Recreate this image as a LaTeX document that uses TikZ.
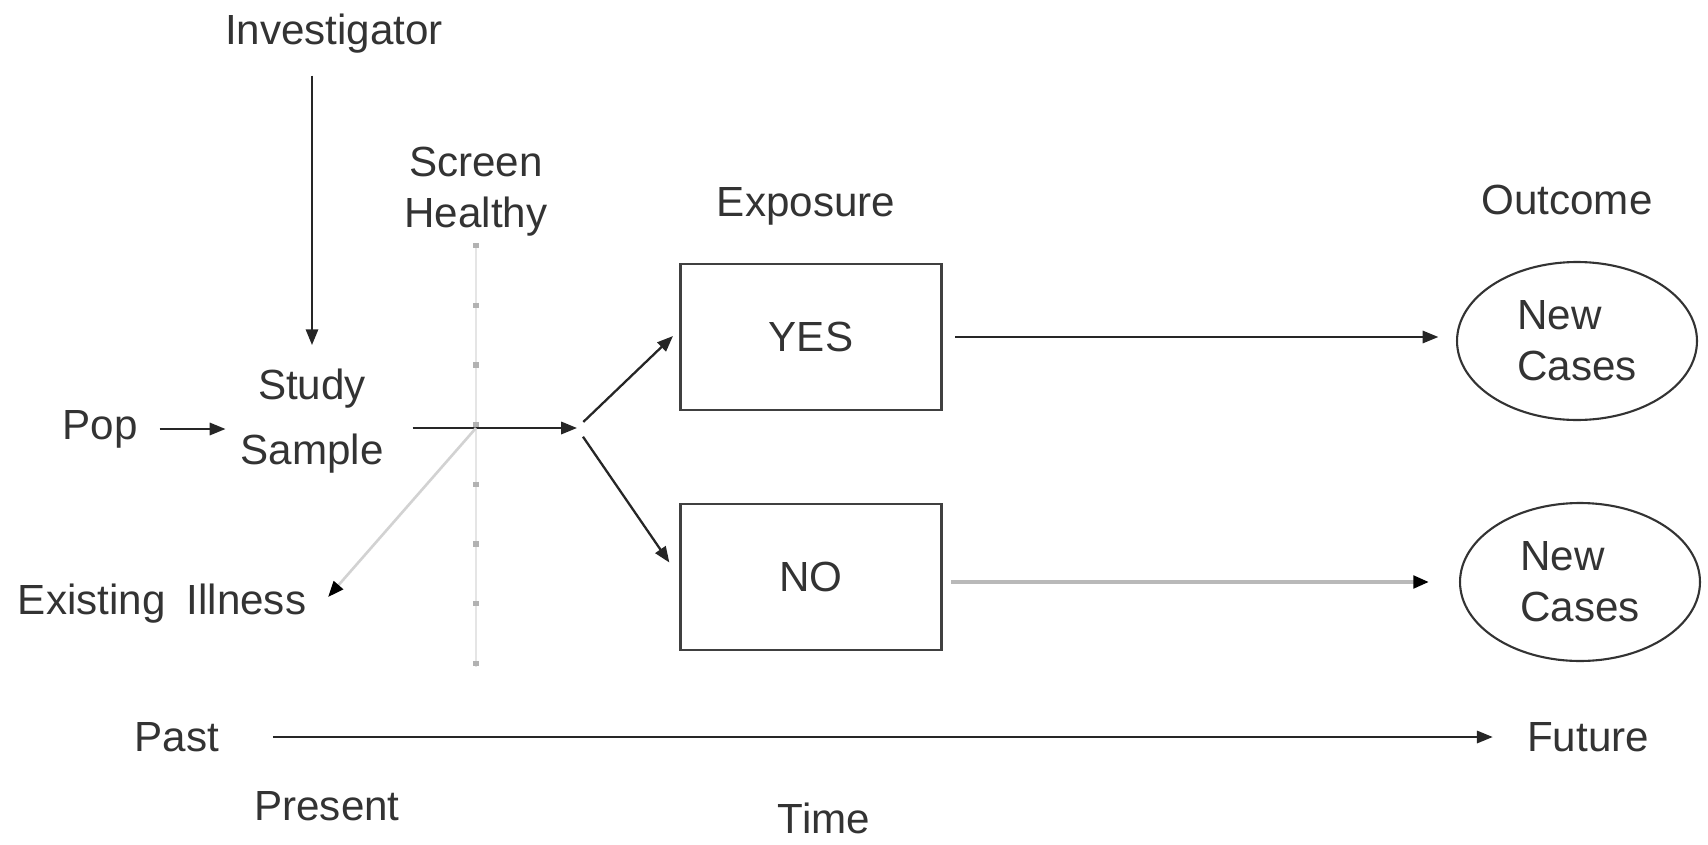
\documentclass[tikz,border=0pt]{standalone}
\usepackage{fontspec}
\setmainfont{Liberation Sans}
\usetikzlibrary{arrows.meta,positioning,shapes}

\begin{document}
\begin{tikzpicture}[
		x = 0.02cm, y = -0.02cm,
		font = \fontsize{24}{29}\selectfont,
		every node/.style = {text = black!80},
		arr/.style = {draw = black!85, line width = 1.3pt, -{Triangle[length = 9pt, width = 7pt]}},
		expbox/.style = {rectangle, draw = black!75, line width = 1.4pt, minimum width = 5.22cm, minimum height = 2.92cm},
		casenode/.style = {ellipse, draw = black!80, line width = 1.2pt, minimum width = 4.8cm, minimum height = 3.16cm, align = left},
		scrline/.style = {draw = gray!20, line width = 1.5pt, postaction = {draw = gray!60, line width = 3pt, dash pattern = on 3pt off 31pt}},
		illarr/.style = {draw = gray!35, line width = 1.5pt, -{Triangle[length = 9pt, width = 7pt, color = black]}},
		noarr/.style = {draw = gray!55, line width = 2.4pt, -{Triangle[length = 9pt, width = 7pt, color = black]}}
		]
\useasboundingbox (0,0) rectangle (1708,845);

\node (inv) at (334, 34) {Investigator};
\node[align = center] (screen) at (476, 192) {Screen\\Healthy};
\node (expo) at (806, 206) {Exposure};
\node (outc) at (1567, 200) {Outcome};

\node[expbox] (yes) at (811, 337) {YES};
\node[expbox] (no) at (811, 577) {NO};
\node[casenode] (case1) at (1577, 341) {New\\Cases};
\node[casenode] (case2) at (1580, 582) {New\\Cases};

\node (pop) at (100, 429) {Pop};
\node[align = center] (study) at (312, 421) {Study\\[8pt]Sample};
\node (ill) at (162, 604) {Existing\enspace Illness};

\node (past) at (177, 737) {Past};
\node (future) at (1588, 737) {Future};
\node (present) at (327, 806) {Present};
\node (time) at (824, 818) {Time};

\coordinate (fork) at (577, 428);
\coordinate (cross) at (screen.south |- fork);
\coordinate (scrend) at (476, 667);

% screening line and arrows
\draw[scrline] (screen.south) -- (scrend);
\draw[arr, shorten < = 9pt, shorten > = 10pt] (study.north |- inv.south) -- (study.north);
\draw[arr, shorten < = 9pt, shorten > = 5pt] (pop.east) -- (pop.east -| study.west);
\draw[arr, shorten < = 13pt] (study.east |- fork) -- (fork);
\draw[arr, shorten < = 5pt, shorten > = 5pt] (fork) -- ([yshift = 4pt]yes.west);
\draw[arr, shorten < = 6pt, shorten > = 10pt] (fork) -- (no.west);
\draw[illarr] (cross) -- ([shift = {(9pt, 4pt)}]ill.east);

\draw[arr, shorten < = 7pt, shorten > = 10pt] (yes.east) -- (yes.east -| case1.west);
\draw[noarr, shorten < = 5pt, shorten > = 17pt] (no.east |- case2) -- (case2.west);

\draw[arr, shorten < = 27pt, shorten > = 16pt] (past.east) -- (past.east -| future.west);

\end{tikzpicture}
\end{document}
